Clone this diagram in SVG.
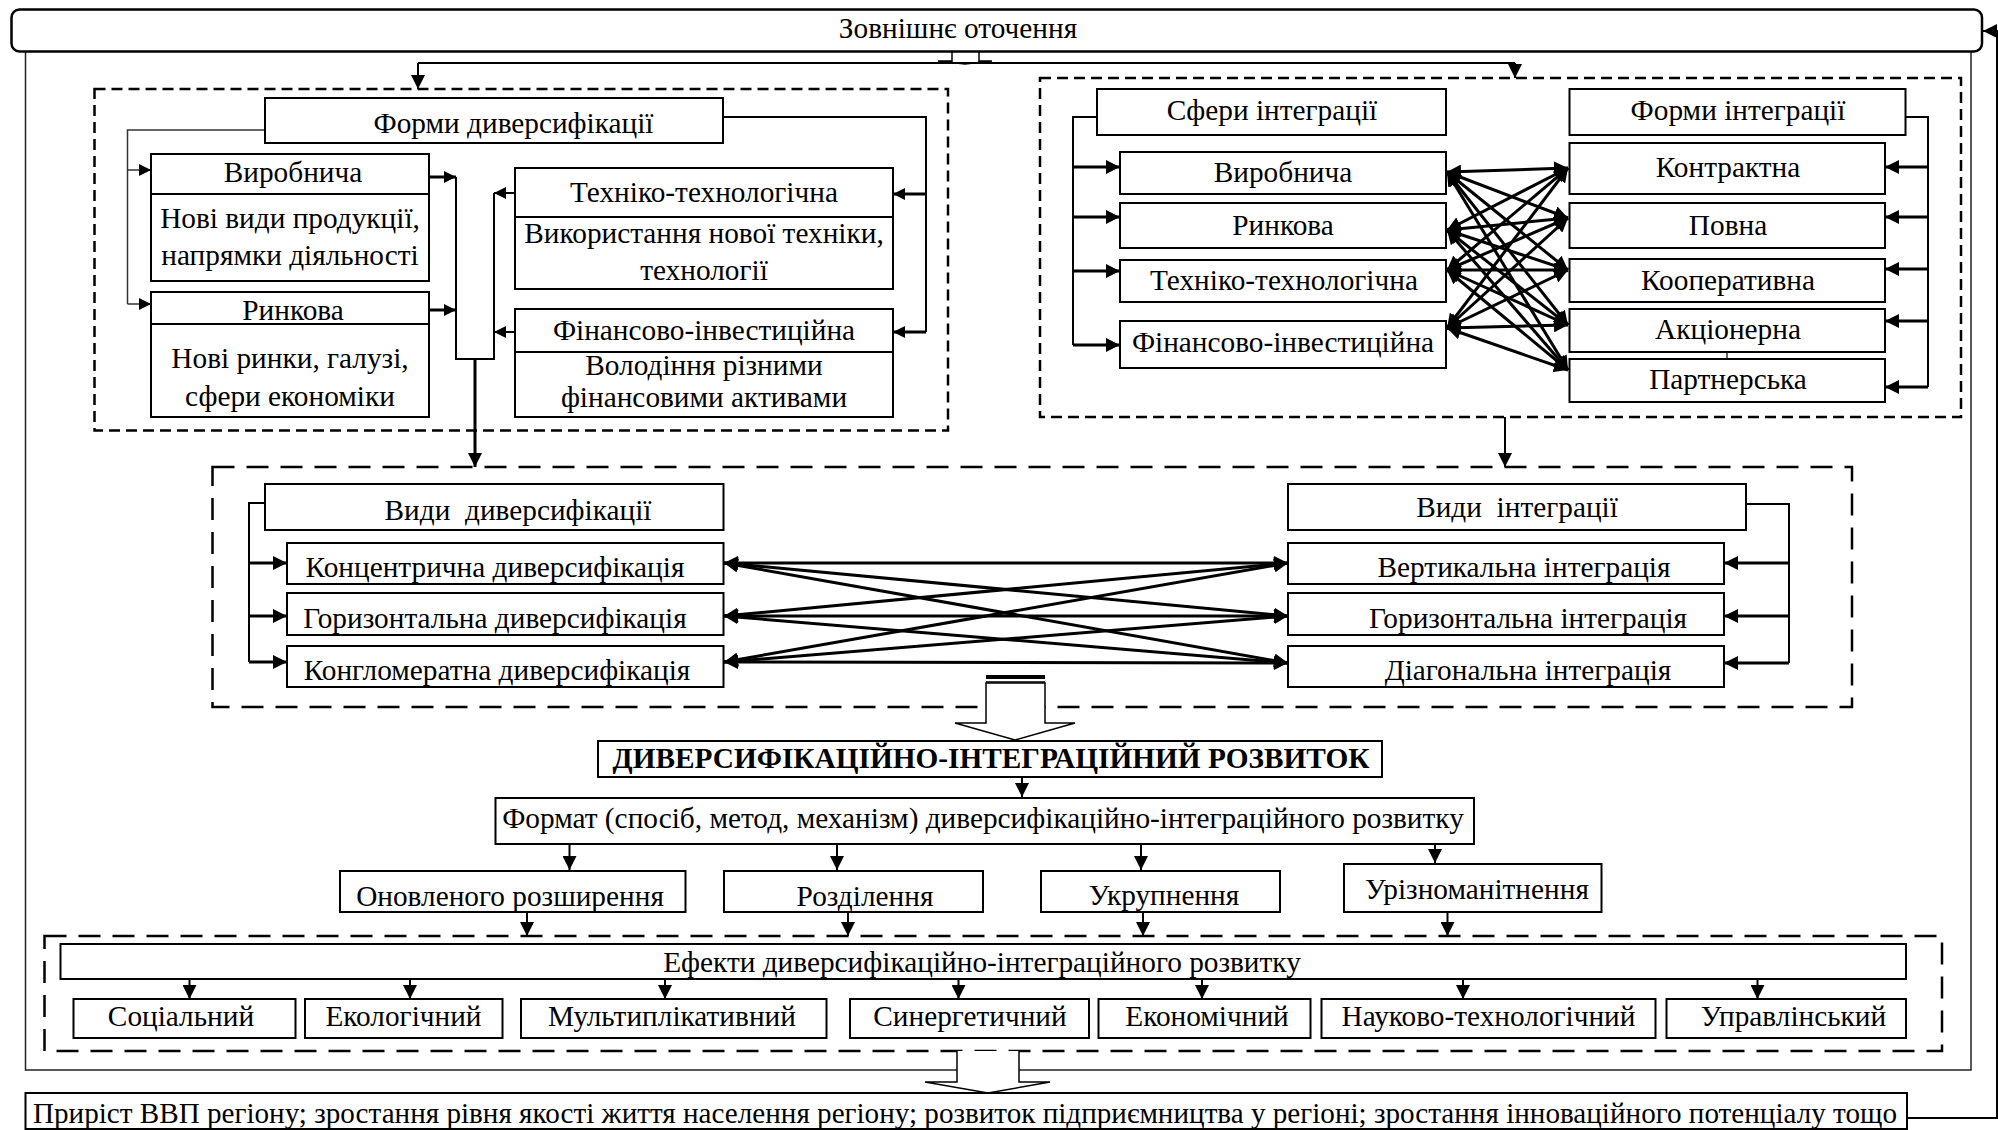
<svg xmlns="http://www.w3.org/2000/svg" width="1998" height="1130" viewBox="0 0 1998 1130">
  <style>
    text { font-family: "Liberation Serif", "Times New Roman", serif; font-size: 29.3px; fill: #000; text-anchor: middle; }
    .b { fill: #fff; stroke: #000; stroke-width: 2; }
    .ln { fill: none; stroke: #000; stroke-width: 2; }
    .thin { fill: none; stroke: #333; stroke-width: 1.5; }
    .th { fill: none; stroke: #000; stroke-width: 3; }
    .dash1 { fill: none; stroke: #000; stroke-width: 2.5; stroke-dasharray: 11 6; }
    .dash2 { fill: none; stroke: #000; stroke-width: 2.5; stroke-dasharray: 22 12; }
    .ar { marker-end: url(#m); }
    .ar2 { marker-start: url(#m); marker-end: url(#m); }
    .ars { marker-end: url(#s); }
  </style>
  <defs>
    <marker id="m" viewBox="0 0 14 14" refX="14" refY="7" markerWidth="14" markerHeight="14" orient="auto-start-reverse" markerUnits="userSpaceOnUse">
      <path d="M0,0 L14,7 L0,14 z" fill="#000"/>
    </marker>
    <marker id="s" viewBox="0 0 12 12" refX="12" refY="6" markerWidth="12" markerHeight="12" orient="auto-start-reverse" markerUnits="userSpaceOnUse">
      <path d="M0,0 L12,6 L0,12 z" fill="#000"/>
    </marker>
  </defs>

  <!-- outer frame -->
  <rect x="25.5" y="40" width="1945.5" height="1030" fill="none" stroke="#222" stroke-width="1.5"/>

  <!-- dashed groupings -->
  <g id="groups">
    <rect class="dash1" x="94.5" y="89" width="853.5" height="341.5"/>
    <rect class="dash1" x="1040" y="78" width="921" height="339"/>
    <rect class="dash2" x="212.5" y="467" width="1639.5" height="240"/>
    <rect class="dash2" x="44.5" y="936" width="1897.5" height="115"/>
  </g>

  <!-- connectors -->
  <g id="connectors">
    <!-- from environment -->
    <path d="M952,51 V61 H938 L965,64 L992,61 H979 V51" fill="#fff" stroke="#000" stroke-width="1.5"/>
    <path class="ln" d="M418,63 H1515"/>
    <path class="ln ar" d="M418,63 V89"/>
    <path class="ln ar" d="M1515,63 V78"/>

    <!-- forms of diversification -->
    <path class="thin" d="M265,130 H127.5 V304"/>
    <path class="thin ars" d="M127.5,170 H151"/>
    <path class="thin ars" d="M127.5,304 H151"/>
    <path class="ln" d="M723,117 H926 V332"/>
    <path class="th ars" d="M926,194 H893"/>
    <path class="th ars" d="M926,332 H893"/>
    <path class="th ars" d="M429,177 H456"/>
    <path class="th ars" d="M429,310 H456"/>
    <path class="ln" d="M456,177 V359 H494 V193"/>
    <path class="ln ars" d="M515,193 H494"/>
    <path class="ln ars" d="M515,332 H494"/>
    <path class="th ar" d="M475,359 V467"/>

    <!-- integration -->
    <path class="ln" d="M1097,117 H1073 V345"/>
    <path class="th ar" d="M1073,167 H1120"/>
    <path class="th ar" d="M1073,217 H1120"/>
    <path class="th ar" d="M1073,271 H1120"/>
    <path class="th ar" d="M1073,345 H1120"/>
    <path class="ln" d="M1905,117 H1928 V387"/>
    <path class="th ar" d="M1928,167 H1885"/>
    <path class="th ar" d="M1928,217 H1885"/>
    <path class="th ar" d="M1928,269 H1885"/>
    <path class="th ar" d="M1928,321 H1885"/>
    <path class="th ar" d="M1928,387 H1885"/>
    <path class="thin" d="M1727,352 V359"/>
    <g class="th ar2">
      <path d="M1447,172 L1568,168"/><path d="M1447,172 L1568,218"/><path d="M1447,172 L1568,270"/><path d="M1447,172 L1568,325"/><path d="M1447,172 L1568,370"/>
      <path d="M1447,230 L1568,168"/><path d="M1447,230 L1568,218"/><path d="M1447,230 L1568,270"/><path d="M1447,230 L1568,325"/><path d="M1447,230 L1568,370"/>
      <path d="M1447,270 L1568,168"/><path d="M1447,270 L1568,218"/><path d="M1447,270 L1568,270"/><path d="M1447,270 L1568,325"/><path d="M1447,270 L1568,370"/>
      <path d="M1447,328 L1568,168"/><path d="M1447,328 L1568,218"/><path d="M1447,328 L1568,270"/><path d="M1447,328 L1568,325"/><path d="M1447,328 L1568,370"/>
    </g>
    <path class="ln ar" d="M1505,417 V467"/>

    <!-- types -->
    <path class="ln" d="M265,503 H249 V662"/>
    <path class="th ar" d="M249,563 H287"/>
    <path class="th ar" d="M249,616 H287"/>
    <path class="th ar" d="M249,662 H287"/>
    <path class="ln" d="M1746,504 H1789 V663"/>
    <path class="th ar" d="M1789,563 H1724"/>
    <path class="th ar" d="M1789,616 H1724"/>
    <path class="th ar" d="M1789,663 H1724"/>
    <g class="th ar2">
      <path d="M724,563 L1288,563"/><path d="M724,563 L1288,616"/><path d="M724,563 L1288,663"/>
      <path d="M724,616 L1288,563"/><path d="M724,616 L1288,616"/><path d="M724,616 L1288,663"/>
      <path d="M724,662 L1288,563"/><path d="M724,662 L1288,616"/><path d="M724,662 L1288,663"/>
    </g>

    <!-- block arrow to development -->
    <polygon points="986,683 1045,683 1045,723 1075,723 1015,740 955,723 986,723" fill="#fff" stroke="#000" stroke-width="1.5"/>
    <rect x="986" y="675" width="59" height="4" fill="#000"/>
    <path d="M986,682 H1045" stroke="#000" stroke-width="1.5"/>

    <path class="ln ar" d="M1022,777 V797"/>
    <path class="ln ar" d="M569.5,844 V870"/>
    <path class="ln ar" d="M837,844 V870"/>
    <path class="ln ar" d="M1141,844 V870"/>
    <path class="ln ar" d="M1435,844 V863"/>
    <path class="ln ar" d="M527,912 V936"/>
    <path class="ln ar" d="M848,912 V936"/>
    <path class="ln ar" d="M1143,912 V936"/>
    <path class="ln ar" d="M1447.5,912 V936"/>

    <!-- effects -->
    <path class="ln ar" d="M189.5,979 V999"/>
    <path class="ln ar" d="M410,979 V999"/>
    <path class="ln ar" d="M665,979 V999"/>
    <path class="ln ar" d="M958.5,979 V999"/>
    <path class="ln ar" d="M1202,979 V999"/>
    <path class="ln ar" d="M1463,979 V999"/>
    <path class="ln ar" d="M1757.5,979 V999"/>

    <!-- block arrow to results -->
    <path d="M957,1051 V1082 H925 L988,1093 L1050,1082 H1019 V1051" fill="#fff" stroke="#000" stroke-width="1.5"/>

    <!-- feedback to environment -->
    <path class="ln ar" d="M1907,1118 H1997 V31 H1983"/>
  </g>

  <!-- environment -->
  <g id="env">
    <rect x="11.5" y="9.5" width="1970.5" height="42" rx="8" fill="#fff" stroke="#000" stroke-width="2.5"/>
    <text x="958" y="38">Зовнішнє оточення</text>
  </g>

  <!-- forms of diversification -->
  <g id="div-forms">
    <rect class="b" x="265" y="98" width="458" height="45"/>
    <text x="513.5" y="133">Форми диверсифікації</text>
  </g>
  <g id="div-prod">
    <rect class="b" x="151" y="154" width="278" height="127"/>
    <line x1="151" y1="194" x2="429" y2="194" stroke="#000" stroke-width="2"/>
    <text x="293" y="182">Виробнича</text>
    <text x="290" y="228">Нові види продукції,</text>
    <text x="290" y="265">напрямки діяльності</text>
  </g>
  <g id="div-market">
    <rect class="b" x="151" y="292" width="278" height="125"/>
    <line x1="151" y1="324" x2="429" y2="324" stroke="#000" stroke-width="2"/>
    <text x="293" y="320">Ринкова</text>
    <text x="290" y="368">Нові ринки, галузі,</text>
    <text x="290" y="406">сфери економіки</text>
  </g>
  <g id="div-tech">
    <rect class="b" x="515" y="168" width="378" height="121"/>
    <line x1="515" y1="217" x2="893" y2="217" stroke="#000" stroke-width="2"/>
    <text x="704" y="202">Техніко-технологічна</text>
    <text x="704" y="243">Використання нової техніки,</text>
    <text x="704" y="280">технології</text>
  </g>
  <g id="div-fin">
    <rect class="b" x="515" y="309" width="378" height="108"/>
    <line x1="515" y1="352" x2="893" y2="352" stroke="#000" stroke-width="2"/>
    <text x="704" y="340">Фінансово-інвестиційна</text>
    <text x="704" y="375">Володіння різними</text>
    <text x="704" y="407">фінансовими активами</text>
  </g>

  <!-- integration spheres and forms -->
  <g id="int-spheres"><rect class="b" x="1097" y="89" width="349" height="46"/><text x="1272" y="120">Сфери інтеграції</text></g>
  <g id="int-forms"><rect class="b" x="1569.5" y="89" width="336" height="46"/><text x="1738" y="120">Форми інтеграції</text></g>
  <g id="sph-prod"><rect class="b" x="1120" y="152" width="326" height="42"/><text x="1283" y="182">Виробнича</text></g>
  <g id="sph-market"><rect class="b" x="1120" y="203" width="326" height="45"/><text x="1283" y="235">Ринкова</text></g>
  <g id="sph-tech"><rect class="b" x="1120" y="260" width="326" height="42"/><text x="1284" y="290">Техніко-технологічна</text></g>
  <g id="sph-fin"><rect class="b" x="1120" y="321" width="326" height="47"/><text x="1283" y="352">Фінансово-інвестиційна</text></g>
  <g id="f-contract"><rect class="b" x="1569.5" y="143" width="315.5" height="51"/><text x="1728" y="177">Контрактна</text></g>
  <g id="f-full"><rect class="b" x="1569.5" y="203" width="315.5" height="45"/><text x="1728" y="235">Повна</text></g>
  <g id="f-coop"><rect class="b" x="1569.5" y="259" width="315.5" height="43"/><text x="1728" y="290">Кооперативна</text></g>
  <g id="f-joint"><rect class="b" x="1569.5" y="309" width="315.5" height="43"/><text x="1728" y="339">Акціонерна</text></g>
  <g id="f-partner"><rect class="b" x="1569.5" y="359" width="315.5" height="43"/><text x="1728" y="389">Партнерська</text></g>

  <!-- types of diversification and integration -->
  <g id="div-types"><rect class="b" x="265" y="484" width="458.5" height="46"/><text x="518" y="520" xml:space="preserve">Види  диверсифікації</text></g>
  <g id="dt-conc"><rect class="b" x="287" y="543" width="436.5" height="41"/><text x="495" y="577">Концентрична диверсифікація</text></g>
  <g id="dt-hor"><rect class="b" x="287" y="593" width="436.5" height="42"/><text x="495" y="628">Горизонтальна диверсифікація</text></g>
  <g id="dt-cong"><rect class="b" x="287" y="646" width="436.5" height="41"/><text x="497" y="680">Конгломератна диверсифікація</text></g>
  <g id="int-types"><rect class="b" x="1288" y="484" width="458" height="46"/><text x="1517" y="517" xml:space="preserve">Види  інтеграції</text></g>
  <g id="it-vert"><rect class="b" x="1288" y="543" width="436" height="41"/><text x="1524" y="577">Вертикальна інтеграція</text></g>
  <g id="it-hor"><rect class="b" x="1288" y="593" width="436" height="42"/><text x="1528" y="628">Горизонтальна інтеграція</text></g>
  <g id="it-diag"><rect class="b" x="1288" y="646" width="436" height="41"/><text x="1528" y="680">Діагональна інтеграція</text></g>

  <!-- development -->
  <g id="dev"><rect class="b" x="598" y="741" width="784" height="36"/><text x="991" y="768" font-weight="bold">ДИВЕРСИФІКАЦІЙНО-ІНТЕГРАЦІЙНИЙ РОЗВИТОК</text></g>
  <g id="format"><rect class="b" x="495.5" y="798" width="978.5" height="46"/><text x="983" y="828">Формат (спосіб, метод, механізм) диверсифікаційно-інтеграційного розвитку</text></g>
  <g id="fm-ext"><rect class="b" x="340" y="871" width="345.5" height="41"/><text x="510" y="906">Оновленого розширення</text></g>
  <g id="fm-split"><rect class="b" x="724" y="871" width="259" height="41"/><text x="865" y="906">Розділення</text></g>
  <g id="fm-merge"><rect class="b" x="1041" y="871" width="239" height="41"/><text x="1164" y="905">Укрупнення</text></g>
  <g id="fm-diverse"><rect class="b" x="1344" y="864" width="257.5" height="48"/><text x="1477" y="899">Урізноманітнення</text></g>

  <!-- effects -->
  <g id="effects"><rect class="b" x="60.5" y="944" width="1845.5" height="35"/><text x="982" y="972">Ефекти диверсифікаційно-інтеграційного розвитку</text></g>
  <g id="e-soc"><rect class="b" x="73.5" y="999" width="222" height="39"/><text x="181" y="1026">Соціальний</text></g>
  <g id="e-eco"><rect class="b" x="305" y="999" width="197.5" height="39"/><text x="403.5" y="1026">Екологічний</text></g>
  <g id="e-mult"><rect class="b" x="521" y="999" width="305.5" height="39"/><text x="672" y="1026">Мультиплікативний</text></g>
  <g id="e-syn"><rect class="b" x="850" y="999" width="239" height="39"/><text x="970" y="1026">Синергетичний</text></g>
  <g id="e-econ"><rect class="b" x="1098.5" y="999" width="212" height="39"/><text x="1207" y="1026">Економічний</text></g>
  <g id="e-sci"><rect class="b" x="1321.5" y="999" width="334" height="39"/><text x="1488.5" y="1026">Науково-технологічний</text></g>
  <g id="e-mgmt"><rect class="b" x="1666.5" y="999" width="239.5" height="39"/><text x="1793.5" y="1026">Управлінський</text></g>

  <!-- results -->
  <g id="result">
    <rect class="b" x="25.5" y="1093" width="1881.5" height="36"/>
    <text x="33" y="1123" style="text-anchor:start" textLength="1864" lengthAdjust="spacingAndGlyphs">Приріст ВВП регіону; зростання рівня якості життя населення регіону; розвиток підприємництва у регіоні; зростання інноваційного потенціалу тощо</text>
  </g>
</svg>
